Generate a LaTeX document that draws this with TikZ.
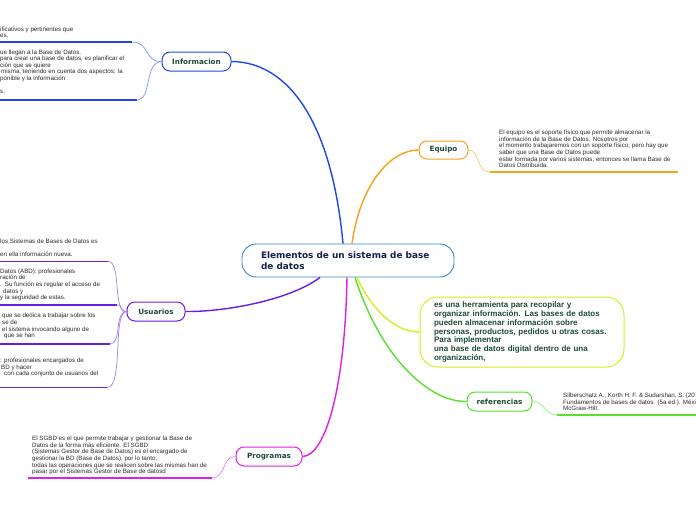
\documentclass[tikz,border=0pt]{standalone}
\usepackage{fontspec}
\setmainfont{Liberation Sans}
\newfontfamily\dvb{DejaVu Sans}
\definecolor{cinfo}{HTML}{1E46EC}
\definecolor{cinfol}{HTML}{7896F5}
\definecolor{cusu}{HTML}{6A1BE6}
\definecolor{cusul}{HTML}{A27EF0}
\definecolor{cprog}{HTML}{E01EE6}
\definecolor{cprogl}{HTML}{EE7CF0}
\definecolor{cref}{HTML}{58E02A}
\definecolor{crefl}{HTML}{9CEE80}
\definecolor{cyel}{HTML}{D6EE1A}
\definecolor{cequ}{HTML}{F5A21E}
\definecolor{cequl}{HTML}{F8C470}
\definecolor{ccen}{HTML}{3A85C8}
\definecolor{navy}{HTML}{14204A}
\definecolor{lgreen}{HTML}{1D4A34}
\definecolor{subtext}{HTML}{2A2A2A}
\begin{document}
\begin{tikzpicture}[x=1pt,y=-1pt,
  every node/.style={inner sep=0pt},
  topic/.style={draw, fill=white, rounded corners=8pt, line width=1pt, minimum height=19pt,
    font=\dvb\bfseries\fontsize{7.2}{8}\selectfont, text=lgreen},
  sub/.style={anchor=base west, align=left, font=\fontsize{6.2}{6.6}\selectfont, text=subtext},
  uline/.style={line width=1.6pt},
  twig/.style={line width=0.7pt},
  branch/.style={line width=1.4pt},
]
\useasboundingbox (0,0) rectangle (696,520);

% central node
\node[draw=ccen, fill=white, rounded corners=14pt, line width=0.9pt, minimum width=212pt, minimum height=33pt,
  align=left, text=navy,
  font=\dvb\bfseries\fontsize{8.9}{11}\selectfont] (c) at (348,260.5) {\makebox[174pt][l]{Elementos de un sistema de base}\\de datos};

% main topics
\node[topic, draw=cinfo, minimum width=69pt] (info) at (196.5,61.5) {Informacion};
\node[topic, draw=cequ, minimum width=49pt, minimum height=18pt] (equ) at (443.5,150) {Equipo};
\node[draw=cyel, rounded corners=18pt, line width=1pt, minimum width=204pt, minimum height=70pt,
  text width=176pt, inner xsep=14pt, align=left, text=lgreen,
  font=\bfseries\fontsize{8}{8.7}\selectfont] (box) at (522,332)
  {es una herramienta para recopilar y\\organizar información. Las bases de datos\\pueden almacenar información sobre\\personas, productos, pedidos u otras cosas.\\Para implementar\\una base de datos digital dentro de una\\organización,};
\node[topic, draw=cref, minimum width=65pt] (ref) at (499.5,401.5) {referencias};
\node[topic, draw=cprog, minimum width=66pt] (prog) at (269,456.5) {Programas};
\node[topic, draw=cusu, minimum width=58pt] (usu) at (156,311.5) {Usuarios};

% branches from the centre
\draw[branch, cinfo] ([xshift=-5pt]c.north) .. controls (332,125) and (290,62) .. (info.east);
\draw[branch, cequ] ([xshift=4pt]c.north) .. controls (360,185) and (390,150) .. (equ.west);
\draw[branch, cyel] ([xshift=9pt]c.south) .. controls (372,310) and (395,332) .. (box.west);
\draw[branch, cref] ([xshift=7pt]c.south) .. controls (382,360) and (430,402) .. (ref.west);
\draw[branch, cprog] ([xshift=-1pt]c.south) .. controls (345,390) and (325,456) .. (prog.east);
\draw[branch, cusu] ([xshift=-28pt]c.south) .. controls (290,300) and (225,312) .. (usu.east);

% Informacion subtopics
\node[sub] (i1) at (0,37.6) {ificativos y pertinentes que\\es.};
\coordinate (i1s) at (0,42); \coordinate (i1e) at (132,42);
\draw[uline, cinfo] (i1s) -- (i1e);
\draw[twig, cinfol] (i1e) .. controls (150,42) and (144,62) .. (info.west);
\node[sub] (i2) at (0,93.6) {ue llegan a la Base de Datos.\\para crear una base de datos, es planificar el\\ción que se quiere\\\hspace*{1pt}misma, teniendo en cuenta dos aspectos: la\\ponible y la información\\[6.6pt]s.};
\coordinate (i2s) at (0,100); \coordinate (i2e) at (137,100);
\draw[uline, cinfo] (i2s) -- (i2e);
\draw[twig, cinfol] (i2e) .. controls (152,100) and (144,62) .. (info.west);

% Equipo subtopic
\node[sub] (e1) at (499,167.6) {El equipo es el soporte físico que permite almacenar la\\información de la Base de Datos. Nosotros por\\el momento trabajaremos con un soporte físico; pero hay que\\saber que una Base de Datos puede\\estar formada por varios sistemas, entonces se llama Base de\\Datos Distribuida.};
\coordinate (e1s) at (490,172); \coordinate (e1e) at (678,172);
\draw[uline, cequ] (e1s) -- (e1e);
\draw[twig, cequl] (equ.east) .. controls (480,150) and (476,172) .. (e1s);

% referencias subtopic
\node[sub] (r1) at (563,410.6) {Silberschatz A., Korth H. F. \& Sudarshan, S. (20\\Fundamentos de bases de datos. (5a ed.). Méxi\\McGraw-Hill.};
\coordinate (r1s) at (557,415); \coordinate (r1e) at (696,415);
\draw[uline, cref] (r1s) -- (r1e);
\draw[twig, crefl] (ref.east) .. controls (545,402) and (545,415) .. (r1s);

% Programas subtopic
\node[sub] (p1) at (32,473.6) {El SGBD es el que permite trabajar y gestionar la Base de\\Datos de la forma más eficiente. El SGBD\\(Sistemas Gestor de Base de Datos) es el encargado de\\gestionar la BD (Base de Datos), por lo tanto,\\todas las operaciones que se realicen sobre las mismas han de\\pasar por el Sistemas Gestor de Base de datosd};
\coordinate (p1s) at (28,478); \coordinate (p1e) at (212,478);
\draw[uline, cprog] (p1s) -- (p1e);
\draw[twig, cprogl] (p1e) .. controls (226,478) and (222,456) .. (prog.west);

% Usuarios subtopics
\node[sub] (u1) at (0,256.6) {los Sistemas de Bases de Datos es\\[6.6pt]en ella información nueva.};
\coordinate (u1s) at (0,261.5); \coordinate (u1e) at (108,261.5);
\draw[uline, cusu] (u1s) -- (u1e);
\draw[twig, cusul] (u1e) .. controls (122,261.5) and (112,312) .. (usu.west);
\node[sub] (u2) at (0,299.6) {Datos (ABD): profesionales\\ración de\\.\hspace*{3pt}Su función es regular el acceso de\\\hspace*{3pt}datos y\\y la seguridad de estas.};
\coordinate (u2s) at (0,305); \coordinate (u2e) at (117,305);
\draw[uline, cusu] (u2s) -- (u2e);
\draw[twig, cusul] (u2e) .. controls (124,305) and (118,312) .. (usu.west);
\node[sub] (u3) at (0,337.6) {\hspace*{2pt}que se dedica a trabajar sobre los\\\hspace*{2pt}se de\\\hspace*{2pt}el sistema invocando alguno de\\\hspace*{4pt}que se han};
\coordinate (u3s) at (0,344); \coordinate (u3e) at (110,344);
\draw[uline, cusu] (u3s) -- (u3e);
\draw[twig, cusul] (u3e) .. controls (122,344) and (114,312) .. (usu.west);
\node[sub] (u4) at (0,375.6) {: profesionales encargados de\\\hspace*{1pt}BD y hacer\\\hspace*{4pt}con cada conjunto de usuarios del};
\coordinate (u4s) at (0,387.5); \coordinate (u4e) at (107,387.5);
\draw[uline, cusu] (u4s) -- (u4e);
\draw[twig, cusul] (u4e) .. controls (124,387.5) and (112,312) .. (usu.west);
\end{tikzpicture}
\end{document}
